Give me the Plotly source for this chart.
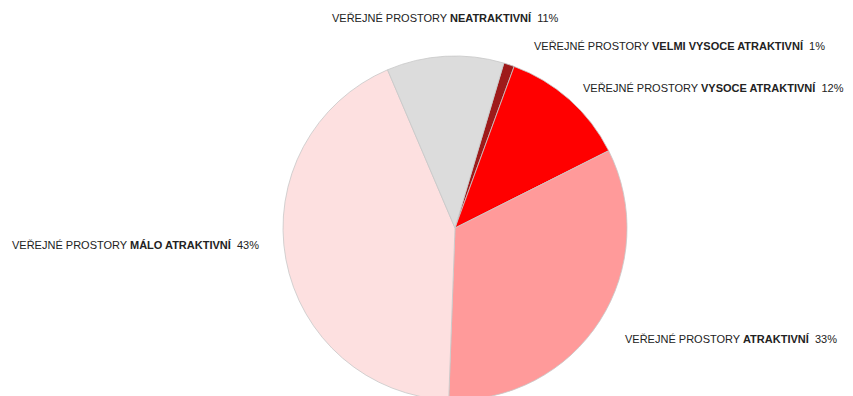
import plotly.graph_objects as go

# Data (clockwise from ~17 degrees past 12 o'clock)
categories = [
    "VELMI VYSOCE ATRAKTIVNÍ",
    "VYSOCE ATRAKTIVNÍ",
    "ATRAKTIVNÍ",
    "MÁLO ATRAKTIVNÍ",
    "NEATRAKTIVNÍ",
]
shares = [1, 12, 33, 43, 11]
colors = ["#9e1a1a", "#ff0000", "#ff9a9a", "#fde0e0", "#dcdcdc"]

# label anchor points (paper coords) for each category
label_x = [0.6143, 0.6720, 0.7210, 0.0023, 0.3775]
label_y = [0.9040, 0.7980, 0.1640, 0.4015, 0.9747]

FONT = "Liberation Sans Narrow, Arial Narrow, Liberation Sans, Arial, sans-serif"

fig = go.Figure()
fig.add_trace(go.Pie(
    labels=categories,
    values=shares,
    sort=False,
    direction="clockwise",
    rotation=16.5,
    marker=dict(colors=colors, line=dict(color="#c8c8c8", width=0.8)),
    textinfo="none",
    hoverinfo="label+percent",
    showlegend=False,
    domain=dict(x=[0.3224, 0.7257], y=[0.0101, 0.8788]),
))

for cat, val, x, y in zip(categories, shares, label_x, label_y):
    fig.add_annotation(
        x=x, y=y, xref="paper", yref="paper",
        xanchor="left", yanchor="middle", showarrow=False,
        text=f"VEŘEJNÉ PROSTORY <b>{cat}</b>  {val}%",
        font=dict(family=FONT, size=11, color="#222222"),
    )

fig.update_layout(
    width=853,
    height=396,
    margin=dict(l=0, r=0, t=0, b=0),
    paper_bgcolor="white",
    plot_bgcolor="white",
)

fig.write_html("out.html")
